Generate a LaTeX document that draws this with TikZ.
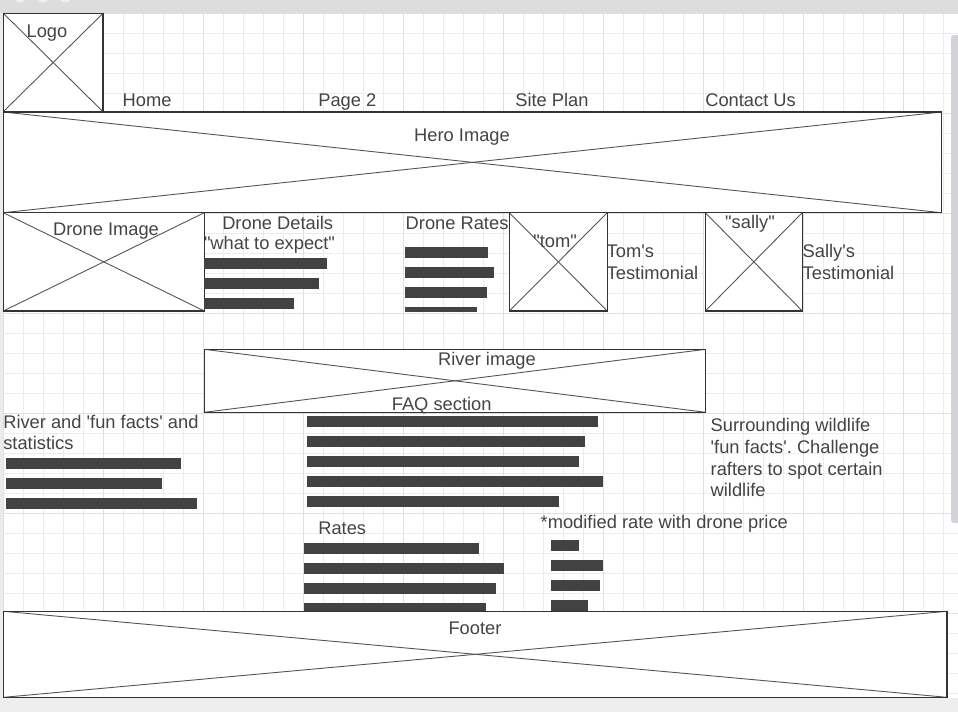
\documentclass[tikz,border=0pt]{standalone}
\usepackage{fontspec}
\setmainfont{Liberation Sans}[Ligatures=TeXOff]
\frenchspacing
\definecolor{txtc}{HTML}{444444}
\definecolor{boxc}{HTML}{333333}
\definecolor{crossc}{HTML}{555555}
\definecolor{barc}{HTML}{424242}
\definecolor{minorc}{HTML}{ECECEC}
\definecolor{majorc}{HTML}{E0E0E0}
\definecolor{topc}{HTML}{DDDDDD}
\definecolor{btmc}{HTML}{EEEEEE}
\definecolor{scrollc}{HTML}{D3D3D7}
\begin{document}
\begin{tikzpicture}[x=1pt,y=-1pt,
  txt/.style={inner sep=0pt, outer sep=0pt, font=\fontsize{18.3}{21.7}\selectfont, text=txtc},
  imgbox/.style={draw=boxc, line width=1.2pt, fill=white, inner sep=0pt, outer sep=0pt, anchor=north west},
  cross/.style={draw=crossc, line width=0.9pt},
  bar/.style={fill=barc},
  minorline/.style={draw=minorc, line width=0.9pt},
  majorline/.style={draw=majorc, line width=1pt}]
\useasboundingbox (0,0) rectangle (958,712);
\fill[white] (0,0) rectangle (958,712);
% grid
\begin{scope}
\clip (3,13) rectangle (958,698);
\foreach \x in {3.3,23.3,...,960} \draw[minorline] (\x,13) -- (\x,698);
\foreach \y in {13.3,33.3,...,700} \draw[minorline] (3,\y) -- (958,\y);
\foreach \x in {3.3,103.3,...,960} \draw[majorline] (\x,13) -- (\x,698);
\foreach \y in {13.3,113.3,...,700} \draw[majorline] (3,\y) -- (958,\y);
\end{scope}
% chrome
\fill[topc] (0,0) rectangle (958,13);
\begin{scope}
\clip (0,0) rectangle (958,13);
\fill[btmc] (20,-4) circle (6.5);
\fill[btmc] (43,-4) circle (6.5);
\fill[btmc] (65,-4) circle (6.5);
\end{scope}
\fill[btmc!80!topc] (0,13) rectangle (3,698);
\fill[btmc] (0,698) rectangle (958,712);
\fill[scrollc, rounded corners=3pt] (951,35) rectangle (962,523);

% image boxes
\node[imgbox, minimum width=99.7pt, minimum height=98.4pt] (logo) at (3.3,13.3) {};
\node[imgbox, minimum width=938.4pt, minimum height=100.7pt] (hero) at (3.3,112) {};
\node[imgbox, minimum width=201pt, minimum height=98.3pt] (drone) at (3.3,212.7) {};
\node[imgbox, minimum width=98pt, minimum height=98.3pt] (tom) at (509.3,212.7) {};
\node[imgbox, minimum width=97pt, minimum height=98.3pt] (sally) at (705.3,212.7) {};
\node[imgbox, minimum width=501.4pt, minimum height=63pt] (river) at (204.3,349.3) {};
\node[imgbox, minimum width=943.3pt, minimum height=86pt] (footer) at (3.7,611.3) {};
\foreach \b in {logo,hero,drone,tom,sally,river,footer}{
  \draw[cross] (\b.north west) -- (\b.south east);
  \draw[cross] (\b.south west) -- (\b.north east);
  \draw[draw=boxc, line width=1.2pt] (\b.north west) rectangle (\b.south east);
}

% labels in boxes
\node[txt, anchor=base] (logot) at (47,37) {Logo};
\node[txt, anchor=base] (herot) at (462,141.3) {Hero Image};
\node[txt, anchor=base] (dronet) at (106,235) {Drone Image};
\node[txt, anchor=base] (tomt) at (555,247) {"tom"};
\node[txt, anchor=base] (sallyt) at (750,228.3) {"sally"};
\node[txt, anchor=base] (rivert) at (487,365.3) {River image};
\node[txt, anchor=base] (footert) at (475,634) {Footer};
\node[txt, anchor=base] (faqt) at (441.7,410.7) {FAQ section};

% nav
\node[txt, anchor=base west] (home) at (122.7,106) {Home};
\node[txt, anchor=base west] (page2) at (318.3,106) {Page 2};
\node[txt, anchor=base west] (siteplan) at (515.3,106) {Site Plan};
\node[txt, anchor=base west] (contact) at (705.3,106) {Contact Us};

% drone details
\node[txt, anchor=base] (ddt) at (277.7,229.3) {Drone Details};
\node[txt, anchor=base west] (ddq) at (204,249) {"what to expect"};
\fill[bar] (204.3,258.3) rectangle (327,269);
\fill[bar] (204.3,278.3) rectangle (319,289);
\fill[bar] (204.3,298.3) rectangle (294,309);

% drone rates
\node[txt, anchor=base west] (drt) at (405.7,229.3) {Drone Rates};
\fill[bar] (405,247.3) rectangle (488,258);
\fill[bar] (405,267.3) rectangle (494,278);
\fill[bar] (405,287.3) rectangle (487,298);
\fill[bar] (405,307.3) rectangle (477,311.7);

% testimonials
\node[txt, anchor=base west] (tom1) at (606.7,257.3) {Tom's};
\node[txt, anchor=base west] (tom2) at (606.7,279) {Testimonial};
\node[txt, anchor=base west] (sal1) at (802.7,257.3) {Sally's};
\node[txt, anchor=base west] (sal2) at (802.7,279) {Testimonial};

% river facts
\node[txt, anchor=base west] (rf1) at (3.3,428.3) {River and 'fun facts' and};
\node[txt, anchor=base west] (rf2) at (3.3,449.3) {statistics};
\fill[bar] (6,458) rectangle (181,468.7);
\fill[bar] (6,478) rectangle (162,488.7);
\fill[bar] (6,498) rectangle (197,508.7);

% FAQ bars
\fill[bar] (307,416) rectangle (598,426.7);
\fill[bar] (307,436) rectangle (585,446.7);
\fill[bar] (307,456) rectangle (579,466.7);
\fill[bar] (307,476) rectangle (603,486.7);
\fill[bar] (307,496) rectangle (559,506.7);

% wildlife
\node[txt, anchor=base west] (w1) at (710.7,431.7) {Surrounding wildlife};
\node[txt, anchor=base west] (w2) at (710.7,453.3) {'fun facts'. Challenge};
\node[txt, anchor=base west] (w3) at (710.7,475) {rafters to spot certain};
\node[txt, anchor=base west] (w4) at (710.7,496.7) {wildlife};

% rates
\node[txt, anchor=base west] (rates) at (318.3,534.3) {Rates};
\fill[bar] (304,543) rectangle (479,553.7);
\fill[bar] (304,563) rectangle (504,573.7);
\fill[bar] (304,583) rectangle (496,593.7);
\fill[bar] (304,603) rectangle (486,611);

\node[txt, anchor=base west] (modt) at (540.7,528.3) {*modified rate with drone price};
\fill[bar] (551,540) rectangle (579,550.7);
\fill[bar] (551,560) rectangle (603,570.7);
\fill[bar] (551,580) rectangle (600,590.7);
\fill[bar] (551,600) rectangle (588,610.7);
\end{tikzpicture}
\end{document}
